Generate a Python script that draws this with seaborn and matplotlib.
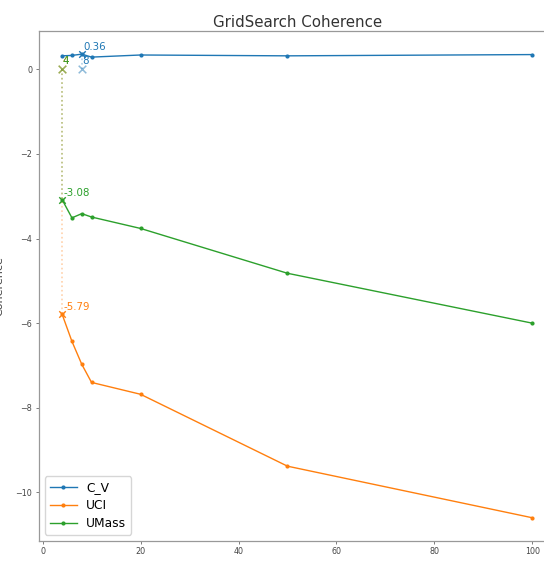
import numpy as np
import pandas as pd
import matplotlib
matplotlib.use("Agg")
import matplotlib.pyplot as plt
import seaborn as sns

# ---- data ----
K = [4, 6, 8, 10, 20, 50, 100]
cv = [0.32, 0.33, 0.36, 0.29, 0.34, 0.32, 0.35]
uci = [-5.79, -6.43, -6.97, -7.40, -7.68, -9.38, -10.60]
umass = [-3.08, -3.51, -3.41, -3.49, -3.76, -4.82, -6.00]
metrics = ["C_V", "UCI", "UMass"]
colors = ["#1f77b4", "#ff7f0e", "#2ca02c"]

series = {"C_V": cv, "UCI": uci, "UMass": umass}
df = pd.DataFrame(
    [(k, v, m) for m in metrics for k, v in zip(K, series[m])],
    columns=["K", "score", "metric"],
)

plt.rcParams["font.family"] = ["DejaVu Sans"]
fig = plt.figure(figsize=(5.44, 5.62), dpi=100)
ax = fig.add_axes([0.071, 0.0374, 0.951, 0.9075])

sns.lineplot(data=df, x="K", y="score", hue="metric", hue_order=metrics,
             palette=colors, marker="o", markersize=3, markeredgewidth=0,
             linewidth=1.0, ax=ax, legend=False)

data_lines = list(ax.get_lines()[:3])

for m, c in zip(metrics, colors):
    vals = series[m]
    i = int(np.argmax(vals))
    kb, vb = K[i], vals[i]
    ax.plot([kb, kb], [0, vb], linestyle=":", color=c, alpha=0.35, linewidth=1.2)
    ax.scatter([kb], [vb], marker="x", color=c, s=22, linewidths=1.0, zorder=4)
    ax.scatter([kb], [0], marker="x", color=c, s=30, linewidths=1.1, alpha=0.5, zorder=4)
    ax.text(kb + 0.3, vb + 0.05, f"{vb:.2f}", color=c, fontsize=7.4,
            ha="left", va="bottom")
    ax.text(kb + 0.1, 0.08, f"{kb}", color=c, fontsize=7.4,
            ha="left", va="bottom")

ax.legend(data_lines, metrics, loc="lower left", fontsize=8.8, framealpha=0.8,
          borderaxespad=0.5, handlelength=2.2, labelspacing=0.4)

ax.set_xticks([0, 20, 40, 60, 80, 100])
ax.set_yticks([-10, -8, -6, -4, -2, 0])
ax.tick_params(labelsize=5.8, length=2.5, width=0.6, colors="#666",
               labelcolor="#444", pad=2)
for s in ax.spines.values():
    s.set_color("#999")
    s.set_linewidth(0.9)

ax.set_title("GridSearch Coherence", fontsize=10.8, color="#333", pad=3)
ax.set_xlabel("K", fontsize=8, color="#444")
ax.set_ylabel("Coherence", fontsize=8, color="#444")
ax.xaxis.set_label_coords(0.5, -0.045)
ax.yaxis.set_label_coords(-0.066, 0.5)

fig.savefig("out.png", dpi=100)
